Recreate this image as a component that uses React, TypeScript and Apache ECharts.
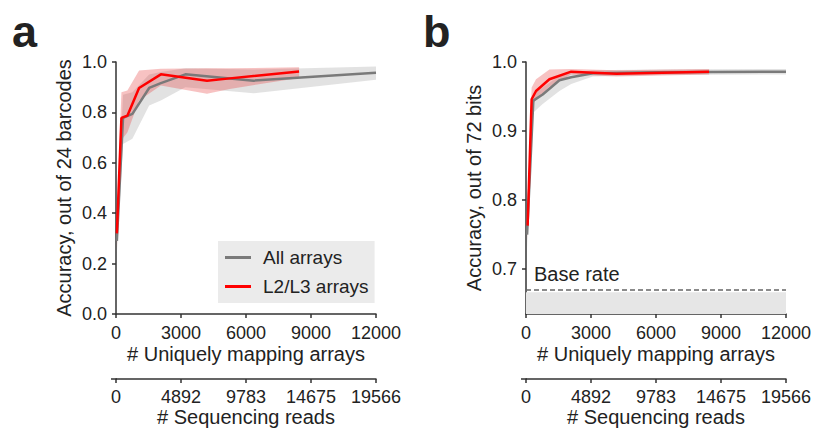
import React, { useEffect, useRef } from "react";
import * as echarts from "echarts";

// ---------- data ----------
// Panel a: accuracy out of 24 barcodes
const aAllX = [40, 325, 757, 1530, 2070, 3200, 6350, 12000];
const aAllMean = [0.29, 0.778, 0.794, 0.897, 0.916, 0.951, 0.926, 0.957];
const aAllUpper = [0.35, 0.87, 0.88, 0.95, 0.96, 0.975, 0.97, 0.982];
const aAllLower = [0.24, 0.675, 0.695, 0.827, 0.847, 0.9, 0.876, 0.93];

const aL23X = [40, 250, 525, 1065, 2070, 4200, 5250, 8450];
const aL23Mean = [0.32, 0.778, 0.787, 0.897, 0.951, 0.926, 0.935, 0.962];
const aL23Upper = [0.4, 0.88, 0.887, 0.966, 0.973, 0.975, 0.975, 0.979];
const aL23Lower = [0.26, 0.69, 0.72, 0.847, 0.907, 0.874, 0.893, 0.937];

// Panel b: accuracy out of 72 bits
const bAllX = [50, 338, 770, 1543, 2085, 3086, 6000, 12000];
const bAllMean = [0.75, 0.944, 0.953, 0.9735, 0.978, 0.9836, 0.985, 0.986];
const bAllUpper = [0.77, 0.955, 0.963, 0.98, 0.984, 0.988, 0.989, 0.99];
const bAllLower = [0.73, 0.927, 0.939, 0.958, 0.968, 0.979, 0.981, 0.982];

const bL23X = [75, 260, 463, 1080, 2085, 4170, 8450];
const bL23Mean = [0.763, 0.946, 0.958, 0.975, 0.986, 0.983, 0.986];
const bL23Upper = [0.785, 0.963, 0.975, 0.989, 0.99, 0.988, 0.99];
const bL23Lower = [0.741, 0.937, 0.945, 0.964, 0.982, 0.979, 0.982];

const baseRate = 2 / 3;
const bYMin = 0.635;

const readTickLabels = ["0", "4892", "9783", "14675", "19566"];
const bYTicks = [0.7, 0.8, 0.9, 1.0];

const FONT = "'Liberation Sans', Arial, Helvetica, sans-serif";
const TEXT = "#222222";
const AXIS = "#333333";
const GRAY = "#7a7a7a";
const RED = "#ff0000";
const GRAY_BAND = "rgba(150,150,150,0.28)";
const RED_BAND = "rgba(232,70,70,0.33)";

const zip = (xs: number[], ys: number[]) => xs.map((x, i) => [x, ys[i]]);

function bandSeries(grid: number, xs: number[], up: number[], lo: number[], color: string) {
  return {
    type: "custom",
    coordinateSystem: "cartesian2d",
    xAxisIndex: grid * 2,
    yAxisIndex: grid,
    silent: true,
    clip: true,
    z: 1,
    data: [[xs[0], lo[0]]],
    renderItem: (_params: any, api: any) => {
      const pts: number[][] = [];
      for (let i = 0; i < xs.length; i++) pts.push(api.coord([xs[i], up[i]]));
      for (let i = xs.length - 1; i >= 0; i--) pts.push(api.coord([xs[i], lo[i]]));
      return { type: "polygon", shape: { points: pts }, style: { fill: color } };
    },
  };
}

function mainX(grid: number) {
  return {
    type: "value",
    gridIndex: grid,
    min: 0,
    max: 12000,
    interval: 3000,
    name: "# Uniquely mapping arrays",
    nameLocation: "middle",
    nameGap: 30,
    nameMoveOverlap: false,
    nameTextStyle: { fontSize: 20, color: TEXT, fontFamily: FONT },
    axisLine: { show: true, onZero: false, lineStyle: { color: AXIS, width: 1.5 } },
    axisTick: { show: true, length: 4, lineStyle: { color: AXIS, width: 1.5 } },
    axisLabel: { fontSize: 18, color: TEXT, fontFamily: FONT, margin: 10, formatter: (v: number) => String(v) },
    splitLine: { show: false },
  };
}

function readsX(grid: number) {
  return {
    type: "category",
    gridIndex: grid,
    position: "bottom",
    offset: 65,
    data: readTickLabels,
    boundaryGap: false,
    name: "# Sequencing reads",
    nameLocation: "middle",
    nameGap: 28,
    nameMoveOverlap: false,
    nameTextStyle: { fontSize: 20, color: TEXT, fontFamily: FONT },
    axisLine: { show: true, onZero: false, lineStyle: { color: AXIS, width: 1.5 } },
    axisTick: { show: true, length: 4, interval: 0, lineStyle: { color: AXIS, width: 1.5 } },
    axisLabel: { fontSize: 18, color: TEXT, fontFamily: FONT, margin: 9, interval: 0 },
    splitLine: { show: false },
  };
}

export default function App() {
  const ref = useRef<HTMLDivElement>(null);
  useEffect(() => {
    if (!ref.current) return;
    const chart = echarts.init(ref.current, null, { renderer: "svg" });
    const option: any = {
      animation: false,
      backgroundColor: "#ffffff",
      textStyle: { fontFamily: FONT },
      grid: [
        { left: 116, top: 62, width: 260, height: 252, containLabel: false, outerBoundsMode: "none" },
        { left: 526, top: 62, width: 260, height: 252, containLabel: false, outerBoundsMode: "none" },
      ],
      xAxis: [mainX(0), readsX(0), mainX(1), readsX(1)],
      yAxis: [
        {
          type: "value",
          gridIndex: 0,
          min: 0,
          max: 1,
          interval: 0.2,
          name: "Accuracy, out of 24 barcodes",
          nameLocation: "middle",
          nameGap: 42,
          nameMoveOverlap: false,
          nameTextStyle: { fontSize: 20, color: TEXT, fontFamily: FONT },
          axisLine: { show: true, lineStyle: { color: AXIS, width: 1.5 } },
          axisTick: { show: true, length: 4, lineStyle: { color: AXIS, width: 1.5 } },
          axisLabel: { fontSize: 18, color: TEXT, fontFamily: FONT, margin: 9, formatter: (v: number) => v.toFixed(1) },
          splitLine: { show: false },
        },
        {
          type: "value",
          gridIndex: 1,
          min: bYMin,
          max: 1,
          name: "Accuracy, out of 72 bits",
          nameLocation: "middle",
          nameGap: 42,
          nameMoveOverlap: false,
          nameTextStyle: { fontSize: 20, color: TEXT, fontFamily: FONT },
          axisLine: { show: true, lineStyle: { color: AXIS, width: 1.5 } },
          axisTick: { show: true, length: 4, customValues: bYTicks, lineStyle: { color: AXIS, width: 1.5 } },
          axisLabel: {
            fontSize: 18,
            color: TEXT,
            fontFamily: FONT,
            margin: 9,
            customValues: bYTicks,
            formatter: (v: number) => v.toFixed(1),
          },
          splitLine: { show: false },
        },
      ],
      legend: {
        data: ["All arrays", "L2/L3 arrays"],
        left: 218,
        top: 241,
        orient: "vertical",
        icon: "rect",
        backgroundColor: "#ebebeb",
        padding: [7, 6, 7, 7],
        itemGap: 10,
        itemWidth: 26,
        itemHeight: 3,
        textStyle: { fontSize: 19, color: TEXT, fontFamily: FONT, padding: [0, 0, 0, 7] },
        selectedMode: false,
      },
      graphic: [
        { type: "text", left: 12, top: 9, style: { text: "a", fontSize: 45, fontWeight: "bold", fill: TEXT, fontFamily: FONT } },
        { type: "text", left: 423, top: 9, style: { text: "b", fontSize: 45, fontWeight: "bold", fill: TEXT, fontFamily: FONT } },
        { type: "line", shape: { x1: 111, y1: 379, x2: 117, y2: 379 }, style: { stroke: AXIS, lineWidth: 1.5 } },
        { type: "line", shape: { x1: 521, y1: 379, x2: 527, y2: 379 }, style: { stroke: AXIS, lineWidth: 1.5 } },
      ],
      series: [
        bandSeries(0, aAllX, aAllUpper, aAllLower, GRAY_BAND),
        bandSeries(0, aL23X, aL23Upper, aL23Lower, RED_BAND),
        bandSeries(1, bAllX, bAllUpper, bAllLower, GRAY_BAND),
        bandSeries(1, bL23X, bL23Upper, bL23Lower, RED_BAND),
        {
          type: "line",
          name: "All arrays",
          xAxisIndex: 0,
          yAxisIndex: 0,
          data: zip(aAllX, aAllMean),
          symbol: "none",
          lineStyle: { color: GRAY, width: 2.5 },
          itemStyle: { color: GRAY },
          z: 3,
        },
        {
          type: "line",
          name: "L2/L3 arrays",
          xAxisIndex: 0,
          yAxisIndex: 0,
          data: zip(aL23X, aL23Mean),
          symbol: "none",
          lineStyle: { color: RED, width: 2.5 },
          itemStyle: { color: RED },
          z: 4,
        },
        {
          type: "line",
          name: "All arrays",
          xAxisIndex: 2,
          yAxisIndex: 1,
          data: zip(bAllX, bAllMean),
          symbol: "none",
          lineStyle: { color: GRAY, width: 2.5 },
          itemStyle: { color: GRAY },
          z: 3,
          markArea: {
            silent: true,
            itemStyle: { color: "#e6e6e6" },
            data: [[{ yAxis: bYMin }, { yAxis: baseRate }]],
          },
          markLine: {
            silent: true,
            symbol: "none",
            lineStyle: { color: "#666666", type: [5, 3], width: 1.5 },
            label: {
              show: true,
              position: "insideStartTop",
              formatter: "Base rate",
              fontSize: 20,
              color: TEXT,
              fontFamily: FONT,
              distance: [8, 6],
            },
            data: [{ yAxis: baseRate }],
          },
        },
        {
          type: "line",
          name: "L2/L3 arrays",
          xAxisIndex: 2,
          yAxisIndex: 1,
          data: zip(bL23X, bL23Mean),
          symbol: "none",
          lineStyle: { color: RED, width: 2.5 },
          itemStyle: { color: RED },
          z: 4,
        },
      ],
    };
    chart.setOption(option);
    return () => chart.dispose();
  }, []);
  return <div ref={ref} style={{ position: "absolute", left: 0, top: 0, width: 813, height: 429 }} />;
}
